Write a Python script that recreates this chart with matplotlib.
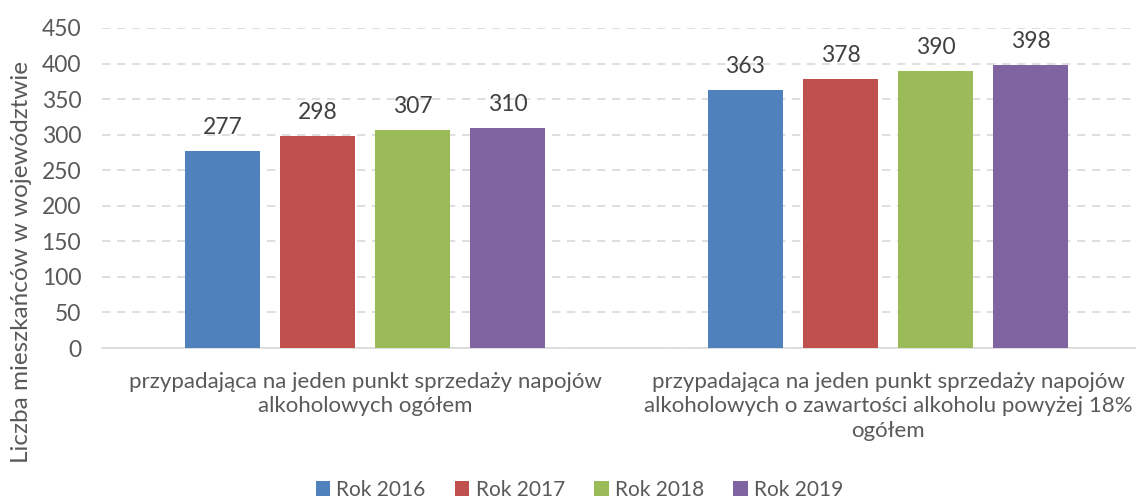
import matplotlib
matplotlib.use("Agg")
import matplotlib.pyplot as plt
import numpy as np

plt.rcParams['font.family'] = ['Lato', 'DejaVu Sans']

categories = [
    "przypadająca na jeden punkt sprzedaży napojów\nalkoholowych ogółem",
    "przypadająca na jeden punkt sprzedaży napojów\nalkoholowych o zawartości alkoholu powyżej 18%\nogółem",
]
series_names = ["Rok 2016", "Rok 2017", "Rok 2018", "Rok 2019"]
values_2016 = [277, 363]
values_2017 = [298, 378]
values_2018 = [307, 390]
values_2019 = [310, 398]
colors = ["#4F81BD", "#C0504D", "#9BBB59", "#8064A2"]

text_color = "#595959"

fig = plt.figure(figsize=(11.36, 4.98), dpi=100)
ax = fig.add_axes([102 / 1136, 1 - 348 / 498, 1 - 102 / 1136, (348 - 28) / 498])

x = np.arange(len(categories))
width = 0.143
step = 0.182
all_values = [values_2016, values_2017, values_2018, values_2019]
for i, (name, vals, c) in enumerate(zip(series_names, all_values, colors)):
    pos = x + (i - 1.5) * step
    bars = ax.bar(pos, vals, width, color=c, label=name, zorder=3)
    for b, v in zip(bars, vals):
        ax.text(b.get_x() + b.get_width() / 2, v + 18, str(v), ha="center", va="bottom",
                fontsize=16.5, color="#404040")

ax.set_xlim(-0.503, 1.474)
ax.set_ylim(0, 450)
ax.set_yticks(range(0, 451, 50))
ax.yaxis.grid(True, linestyle=(0, (5, 4)), color="#D9D9D9", linewidth=1.2, zorder=0)
ax.set_axisbelow(True)
for s in ["left", "right", "top"]:
    ax.spines[s].set_visible(False)
ax.spines["bottom"].set_color("#D9D9D9")
ax.spines["bottom"].set_linewidth(1.2)
ax.tick_params(axis="both", length=0, labelsize=16.5, colors=text_color)
ax.tick_params(axis="y", pad=15)
ax.tick_params(axis="x", pad=17)
ax.set_xticks(x)
ax.set_xticklabels(categories, fontsize=16, color=text_color, linespacing=1.3)
ax.set_ylabel("Liczba mieszkańców w województwie", fontsize=17.5, color=text_color)
ax.yaxis.set_label_coords(-0.068, 0.27)

fig.legend(loc="center", bbox_to_anchor=(0.51, 1 - 490 / 498), ncol=4, frameon=False,
           fontsize=15, labelcolor=text_color, handlelength=0.7, handleheight=0.7,
           handletextpad=0.3, columnspacing=1.4)

fig.savefig("out.png", dpi=100)
